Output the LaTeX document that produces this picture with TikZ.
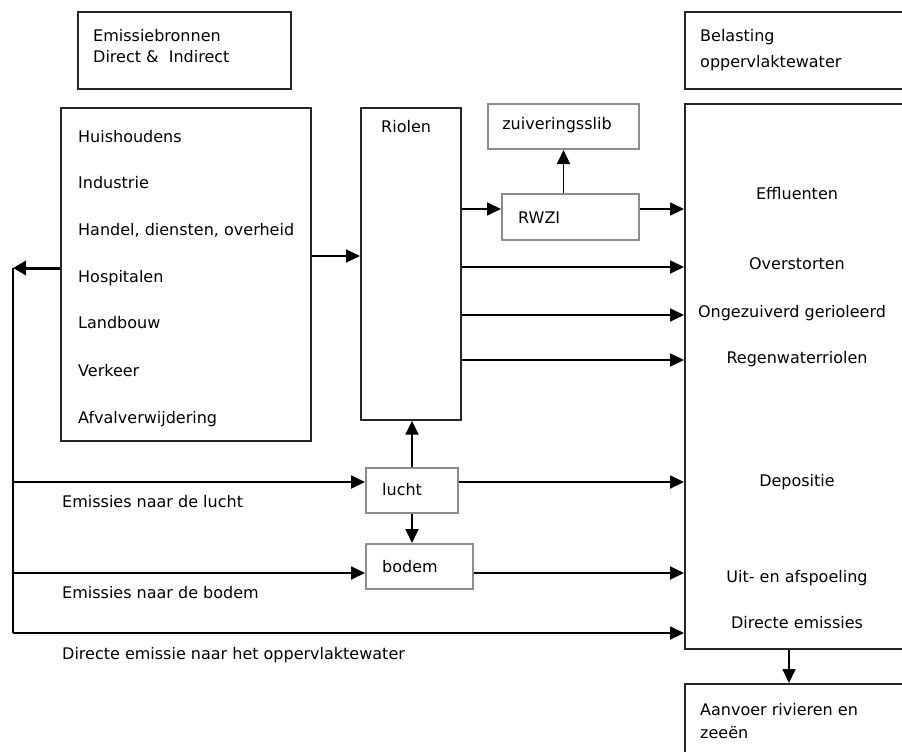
\documentclass[tikz,border=0pt]{standalone}
\usepackage{fontspec}
\setmainfont{DejaVu Sans}
\usetikzlibrary{arrows.meta,calc}
\begin{document}
\begin{tikzpicture}[x=1pt,y=-1pt,
  box/.style={draw=black!85,line width=1.7pt,anchor=north west,inner sep=0pt},
  gbox/.style={draw=black!45,line width=2pt,anchor=north west,inner sep=0pt},
  txt/.style={anchor=base west,inner sep=0pt,font=\fontsize{16}{19}\selectfont},
  ctxt/.style={anchor=base,inner sep=0pt,font=\fontsize{16}{19}\selectfont},
  conn/.style={line width=1.8pt,draw=black},
  arr/.style={conn,-{Triangle[length=14pt,width=13pt]}},
  bigarr/.style={line width=3pt,draw=black,-{Triangle[length=13pt,width=14pt]}}
]
\useasboundingbox (0,0) rectangle (902,752);
\clip (0,0) rectangle (902,752);
\fill[white] (0,0) rectangle (902,752);

% boxes
\node[box,minimum width=213pt,minimum height=77pt] (emis) at (77,11) {};
\node[box,minimum width=250pt,minimum height=333pt] (src) at (60,107) {};
\node[box,minimum width=100pt,minimum height=312pt] (riolen) at (360,107) {};
\node[gbox,minimum width=151pt,minimum height=45pt] (slib) at (487,103) {};
\node[gbox,minimum width=137pt,minimum height=46pt] (rwzi) at (501,193) {};
\node[box,minimum width=240pt,minimum height=77pt] (belast) at (684,11) {};
\node[box,minimum width=240pt,minimum height=545pt] (opp) at (684,103) {};
\node[box,minimum width=240pt,minimum height=100pt] (aanvoer) at (684,683) {};
\node[gbox,minimum width=92pt,minimum height=45pt] (lucht) at (365,467) {};
\node[gbox,minimum width=107pt,minimum height=45pt] (bodem) at (365,543) {};

% texts
\node[txt] (t1) at (93,42) {Emissiebronnen};
\node[txt] (t2) at (93,63) {Direct \&\ \ Indirect};
\node[txt] (s1) at (78,142) {Huishoudens};
\node[txt] (s2) at (78,188) {Industrie};
\node[txt] (s3) at (78,235) {Handel, diensten, overheid};
\node[txt] (s4) at (78,282) {Hospitalen};
\node[txt] (s5) at (78,328) {Landbouw};
\node[txt] (s6) at (78,376) {Verkeer};
\node[txt] (s7) at (78,423) {Afvalverwijdering};
\node[txt] (tr) at (381,132) {Riolen};
\node[ctxt] (tslib) at (557,129) {zuiveringsslib};
\node[txt] (trwzi) at (518,223) {RWZI};
\node[txt] (tb1) at (700,42) {Belasting};
\node[txt] (tb2) at (700,67) {oppervlaktewater};
\node[ctxt] (o1) at (797,199) {Effluenten};
\node[ctxt] (o2) at (797,269) {Overstorten};
\node[ctxt] (o3) at (792,317) {Ongezuiverd gerioleerd};
\node[ctxt] (o4) at (797,363) {Regenwaterriolen};
\node[ctxt] (o5) at (797,486) {Depositie};
\node[ctxt] (o6) at (797,582) {Uit- en afspoeling};
\node[ctxt] (o7) at (797,628) {Directe emissies};
\node[txt] (ta1) at (700,715) {Aanvoer rivieren en};
\node[txt] (ta2) at (700,738) {zeeën};
\node[txt] (tl) at (382,495) {lucht};
\node[txt] (tbo) at (382,572) {bodem};
\node[txt] (e1) at (62,507) {Emissies naar de lucht};
\node[txt] (e2) at (62,598) {Emissies naar de bodem};
\node[txt] (e3) at (62,659) {Directe emissie naar het oppervlaktewater};

% connectors
\coordinate (lt) at (13,268);
\coordinate (lb) at (13,633);
\draw[bigarr] (src.west |- lt) -- (lt);
\draw[conn] (lt) -- (lb);
\draw[arr] (lt |- 0,482) -- (lucht.west |- 0,482);
\draw[arr] (lt |- 0,573) -- (bodem.west |- 0,573);
\draw[arr] (lb) -- (opp.west |- lb);

\draw[arr] (src.east |- 0,256) -- (riolen.west |- 0,256);
\draw[arr] (riolen.east |- 0,209) -- (rwzi.west |- 0,209);
\draw[arr] (rwzi.east |- 0,209) -- (opp.west |- 0,209);
\draw[arr] (slib.south |- rwzi.north) -- (slib.south);
\draw[arr] (riolen.east |- 0,267) -- (opp.west |- 0,267);
\draw[arr] (riolen.east |- 0,315) -- (opp.west |- 0,315);
\draw[arr] (riolen.east |- 0,360) -- (opp.west |- 0,360);
\draw[arr] (lucht.east |- 0,482) -- (opp.west |- 0,482);
\draw[arr] (bodem.east |- 0,573) -- (opp.west |- 0,573);
\draw[arr] (lucht.north -| 412,0) -- (riolen.south -| 412,0);
\draw[arr] (lucht.south -| 412,0) -- (bodem.north -| 412,0);
\draw[arr] (opp.south -| 789,0) -- (aanvoer.north -| 789,0);
\end{tikzpicture}
\end{document}
